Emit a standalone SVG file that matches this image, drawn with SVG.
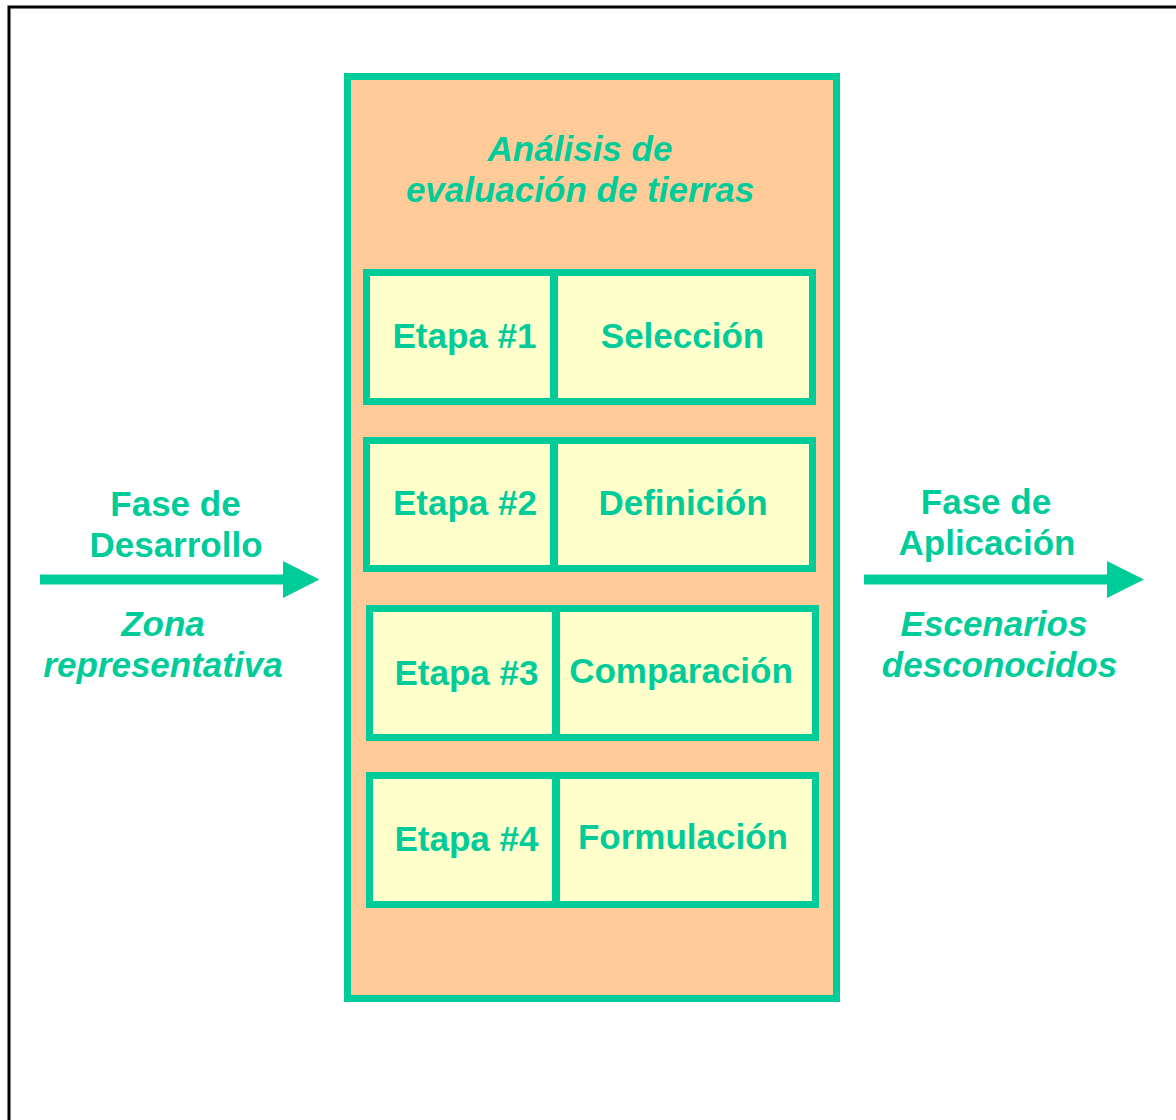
<svg xmlns="http://www.w3.org/2000/svg" width="1176" height="1120" viewBox="0 0 1176 1120">
<style>
.t{font-family:"Liberation Sans",Arial,sans-serif;font-weight:bold;font-size:35px;fill:#00CC99;text-anchor:middle}
.i{font-style:italic}
.box{fill:#FFFFCC;stroke:#00CC99;stroke-width:7}
.div{stroke:#00CC99;stroke-width:8}
</style>
<rect width="1176" height="1120" fill="#fff"/>
<path d="M9,1120 V7 H1176" fill="none" stroke="#000" stroke-width="3"/>
<g id="main">
<rect x="347.5" y="76.5" width="489" height="922" fill="#FFCC99" stroke="#00CC99" stroke-width="7"/>
<text class="t i" x="580" y="161">Análisis de</text>
<text class="t i" x="580" y="202">evaluación de tierras</text>
</g>
<g id="etapa1">
<rect class="box" x="366.5" y="272.5" width="446" height="129"/>
<line class="div" x1="554" y1="276" x2="554" y2="398"/>
<text class="t" x="464.5" y="348">Etapa #1</text>
<text class="t" x="682.5" y="348">Selección</text>
</g>
<g id="etapa2">
<rect class="box" x="366.5" y="440.5" width="446" height="128"/>
<line class="div" x1="554" y1="444" x2="554" y2="565"/>
<text class="t" x="465" y="515">Etapa #2</text>
<text class="t" x="683" y="515">Definición</text>
</g>
<g id="etapa3">
<rect class="box" x="369.5" y="608.5" width="446" height="129"/>
<line class="div" x1="556" y1="612" x2="556" y2="734"/>
<text class="t" x="466.5" y="685">Etapa #3</text>
<text class="t" x="681" y="683">Comparación</text>
</g>
<g id="etapa4">
<rect class="box" x="369.5" y="775.5" width="446" height="129"/>
<line class="div" x1="556" y1="779" x2="556" y2="901"/>
<text class="t" x="466.5" y="851">Etapa #4</text>
<text class="t" x="683" y="849">Formulación</text>
</g>
<g id="left-label">
<text class="t" x="175.5" y="516">Fase de</text>
<text class="t" x="176" y="557">Desarrollo</text>
<text class="t i" x="163" y="636">Zona</text>
<text class="t i" x="163" y="677">representativa</text>
</g>
<g id="right-label">
<text class="t" x="986" y="514">Fase de</text>
<text class="t" x="987" y="555">Aplicación</text>
<text class="t i" x="994" y="636">Escenarios</text>
<text class="t i" x="999.5" y="677">desconocidos</text>
</g>
<g id="connectors" fill="#00CC99">
<path d="M40,574.5 H283 V561 L319.5,579.5 L283,598 V584.5 H40 Z"/>
<path d="M864,574.5 H1107 V561 L1144,579.5 L1107,598 V584.5 H864 Z"/>
</g>
</svg>
